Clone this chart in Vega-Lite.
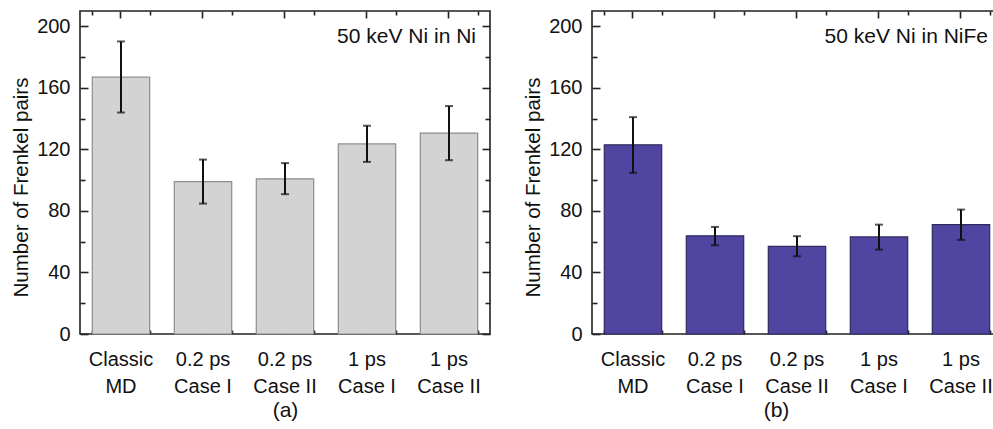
{
  "$schema": "https://vega.github.io/schema/vega-lite/v6.json",
  "padding": {"left": 10, "top": 9, "right": 0, "bottom": 0},
  "spacing": 30,
  "config": {
    "font": "Liberation Sans",
    "view": {"stroke": "#222222", "strokeWidth": 1.6},
    "axis": {
      "domain": false,
      "grid": false,
      "labelFont": "Liberation Sans",
      "labelFontSize": 20,
      "labelColor": "#111111",
      "titleFont": "Liberation Sans",
      "titleFontSize": 20.5,
      "titleFontWeight": "normal",
      "titleColor": "#111111",
      "tickColor": "#222222",
      "tickWidth": 1.6
    }
  },
  "datasets": {
    "ni": [
      {"cat": "Classic\nMD", "value": 167.0, "lo": 144.0, "hi": 190.2},
      {"cat": "0.2 ps\nCase I", "value": 99.1, "lo": 84.8, "hi": 113.4},
      {"cat": "0.2 ps\nCase II", "value": 100.9, "lo": 90.9, "hi": 111.1},
      {"cat": "1 ps\nCase I", "value": 123.6, "lo": 111.9, "hi": 135.4},
      {"cat": "1 ps\nCase II", "value": 130.6, "lo": 113.0, "hi": 148.2}
    ],
    "nife": [
      {"cat": "Classic\nMD", "value": 123.0, "lo": 104.8, "hi": 141.0},
      {"cat": "0.2 ps\nCase I", "value": 63.8, "lo": 57.7, "hi": 69.6},
      {"cat": "0.2 ps\nCase II", "value": 57.0, "lo": 50.5, "hi": 63.6},
      {"cat": "1 ps\nCase I", "value": 63.1, "lo": 54.9, "hi": 71.1},
      {"cat": "1 ps\nCase II", "value": 71.1, "lo": 61.2, "hi": 80.9}
    ],
    "labA": [{"cat": "1 ps\nCase II", "y": 193, "text": "50 keV Ni in Ni"}],
    "labB": [{"cat": "1 ps\nCase II", "y": 193, "text": "50 keV Ni in NiFe"}]
  },
  "hconcat": [
    {
      "width": 410,
      "height": 323,
      "data": {"name": "ni"},
      "resolve": {"axis": {"x": "independent", "y": "independent"}},
      "layer": [
        {
          "mark": {"type": "bar", "fill": "#D3D3D3", "stroke": "#8E8E8E", "strokeWidth": 1.2},
          "encoding": {
            "x": {"field": "cat", "type": "nominal", "sort": null,
              "scale": {"domain": ["Classic\nMD", "0.2 ps\nCase I", "0.2 ps\nCase II", "1 ps\nCase I", "1 ps\nCase II"], "paddingInner": 0.3, "paddingOuter": 0.15},
              "axis": {"orient": "bottom", "title": "(a)", "titleFontSize": 21, "titlePadding": 3, "labelAngle": 0, "tickSize": -7, "labelPadding": 22, "labelLineHeight": 27, "labelExpr": "split(datum.label, '\\n')"}},
            "y": {"field": "value", "type": "quantitative", "scale": {"domain": [0, 210], "nice": false},
              "axis": {"orient": "left", "title": "Number of Frenkel pairs", "values": [0, 40, 80, 120, 160, 200], "tickSize": -8, "labelPadding": 18, "titlePadding": 5, "titleY": 176}}
          }
        },
        {
          "mark": {"type": "rule", "color": "#111111", "strokeWidth": 2},
          "encoding": {
            "x": {"field": "cat", "type": "nominal", "sort": null,
              "axis": {"orient": "top", "labels": false, "title": null, "tickSize": -7}},
            "y": {"field": "lo", "type": "quantitative",
              "axis": {"orient": "right", "labels": false, "title": null, "values": [0, 40, 80, 120, 160, 200], "tickSize": -8}},
            "y2": {"field": "hi"}
          }
        },
        {
          "mark": {"type": "tick", "color": "#111111", "thickness": 2, "size": 8},
          "encoding": {
            "x": {"field": "cat", "type": "nominal", "sort": null,
              "axis": {"orient": "bottom", "labels": false, "title": null, "tickBand": "extent", "tickSize": -4}},
            "y": {"field": "lo", "type": "quantitative",
              "axis": {"orient": "left", "labels": false, "title": null, "values": [20, 60, 100, 140, 180], "tickSize": -5}}
          }
        },
        {
          "mark": {"type": "tick", "color": "#111111", "thickness": 2, "size": 8},
          "encoding": {
            "x": {"field": "cat", "type": "nominal", "sort": null,
              "axis": {"orient": "top", "labels": false, "title": null, "tickBand": "extent", "tickSize": -4}},
            "y": {"field": "hi", "type": "quantitative",
              "axis": {"orient": "right", "labels": false, "title": null, "values": [20, 60, 100, 140, 180], "tickSize": -5}}
          }
        },
        {
          "data": {"name": "labA"},
          "mark": {"type": "text", "align": "right", "baseline": "middle", "dx": 27, "fontSize": 21, "font": "Liberation Sans", "color": "#111111"},
          "encoding": {
            "x": {"field": "cat", "type": "nominal", "sort": null, "axis": null},
            "y": {"field": "y", "type": "quantitative", "axis": null},
            "text": {"field": "text"}
          }
        }
      ]
    },
    {
      "width": 410,
      "height": 323,
      "data": {"name": "nife"},
      "resolve": {"axis": {"x": "independent", "y": "independent"}},
      "layer": [
        {
          "mark": {"type": "bar", "fill": "#5045A0", "stroke": "#2E2A5E", "strokeWidth": 1.2},
          "encoding": {
            "x": {"field": "cat", "type": "nominal", "sort": null,
              "scale": {"domain": ["Classic\nMD", "0.2 ps\nCase I", "0.2 ps\nCase II", "1 ps\nCase I", "1 ps\nCase II"], "paddingInner": 0.3, "paddingOuter": 0.15},
              "axis": {"orient": "bottom", "title": "(b)", "titleFontSize": 21, "titlePadding": 3, "titleX": 184, "labelAngle": 0, "tickSize": -7, "labelPadding": 22, "labelLineHeight": 27, "labelExpr": "split(datum.label, '\\n')"}},
            "y": {"field": "value", "type": "quantitative", "scale": {"domain": [0, 210], "nice": false},
              "axis": {"orient": "left", "title": "Number of Frenkel pairs", "values": [0, 40, 80, 120, 160, 200], "tickSize": -8, "labelPadding": 18, "titlePadding": 5, "titleY": 176}}
          }
        },
        {
          "mark": {"type": "rule", "color": "#111111", "strokeWidth": 2},
          "encoding": {
            "x": {"field": "cat", "type": "nominal", "sort": null,
              "axis": {"orient": "top", "labels": false, "title": null, "tickSize": -7}},
            "y": {"field": "lo", "type": "quantitative",
              "axis": {"orient": "right", "labels": false, "title": null, "values": [0, 40, 80, 120, 160, 200], "tickSize": -8}},
            "y2": {"field": "hi"}
          }
        },
        {
          "mark": {"type": "tick", "color": "#111111", "thickness": 2, "size": 8},
          "encoding": {
            "x": {"field": "cat", "type": "nominal", "sort": null,
              "axis": {"orient": "bottom", "labels": false, "title": null, "tickBand": "extent", "tickSize": -4}},
            "y": {"field": "lo", "type": "quantitative",
              "axis": {"orient": "left", "labels": false, "title": null, "values": [20, 60, 100, 140, 180], "tickSize": -5}}
          }
        },
        {
          "mark": {"type": "tick", "color": "#111111", "thickness": 2, "size": 8},
          "encoding": {
            "x": {"field": "cat", "type": "nominal", "sort": null,
              "axis": {"orient": "top", "labels": false, "title": null, "tickBand": "extent", "tickSize": -4}},
            "y": {"field": "hi", "type": "quantitative",
              "axis": {"orient": "right", "labels": false, "title": null, "values": [20, 60, 100, 140, 180], "tickSize": -5}}
          }
        },
        {
          "data": {"name": "labB"},
          "mark": {"type": "text", "align": "right", "baseline": "middle", "dx": 27, "fontSize": 21, "font": "Liberation Sans", "color": "#111111"},
          "encoding": {
            "x": {"field": "cat", "type": "nominal", "sort": null, "axis": null},
            "y": {"field": "y", "type": "quantitative", "axis": null},
            "text": {"field": "text"}
          }
        }
      ]
    }
  ]
}
